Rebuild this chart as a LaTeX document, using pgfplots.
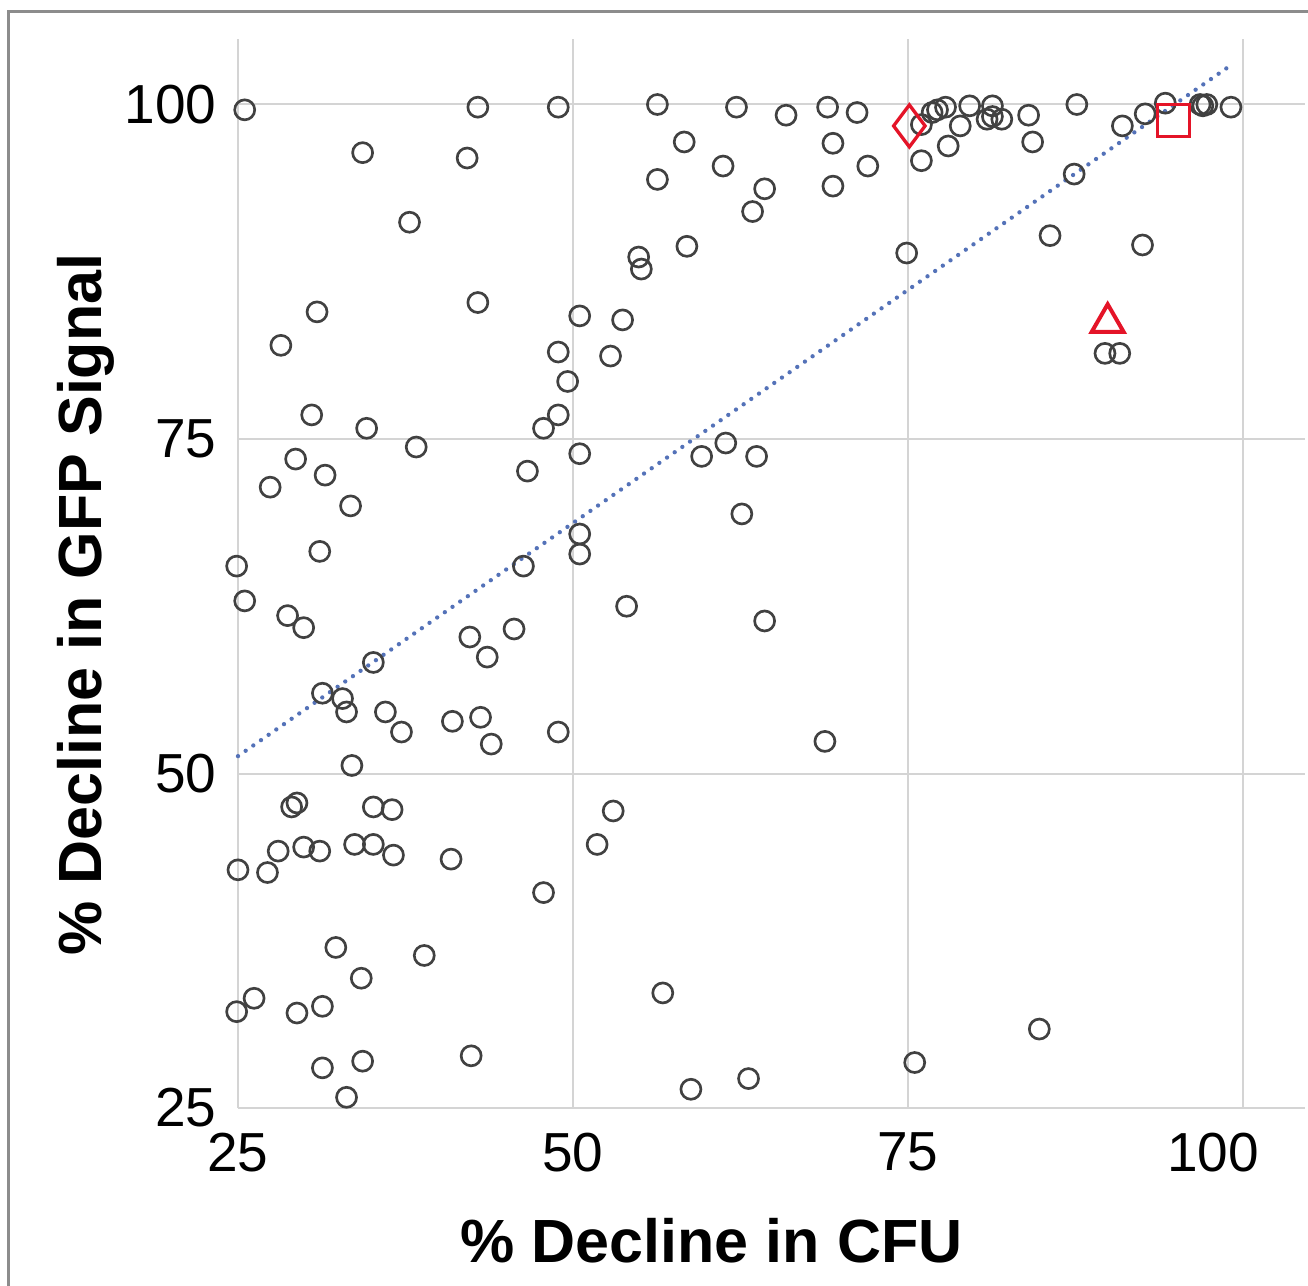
\documentclass[border=0pt]{standalone}
\usepackage{pgfplots}
\pgfplotsset{compat=1.18}
\usepackage{fontspec}
\setmainfont{Liberation Sans}
\definecolor{ptgray}{RGB}{65,65,65}
\definecolor{ptred}{RGB}{228,20,40}
\definecolor{trendblue}{RGB}{84,114,184}
\definecolor{gridgray}{RGB}{212,212,212}
\begin{document}
\begin{tikzpicture}
\useasboundingbox (0,0) rectangle (392.4pt,385.5pt);
\draw[draw={rgb,255:red,140;green,140;blue,140}, line width=0.9pt] (2.4pt,-5pt) -- (2.4pt,381.9pt) -- (400pt,381.9pt);
\begin{axis}[
  at={(71.4pt,53.1pt)}, anchor=south west,
  x=4.02pt, y=4.014pt,
  xmin=25, xmax=104.6, ymin=25, ymax=104.9,
  xtick={25,50,75}, ytick={25,50,75,100},
  extra x ticks={100},
  extra x tick style={grid=major, xticklabel style={xshift=-9pt}},
  grid=major,
  major grid style={draw=gridgray, line width=0.6pt},
  axis lines*=left,
  axis line style={draw=gridgray, line width=0.6pt},
  tick style={draw=none},
  clip=false,
  /pgf/number format/assume math mode=true,
  ticklabel style={font=\fontsize{16.5}{18}\selectfont},
  xticklabel style={yshift=-4pt},
  yticklabel style={xshift=-3pt},
  label style={font=\bfseries\fontsize{18.3}{20}\selectfont},
  xlabel={\% Decline in CFU},
  ylabel={\% Decline in GFP Signal},
  xlabel style={at={(axis description cs:0.444,-0.124)}, anchor=center},
  ylabel style={at={(axis description cs:-0.143,0.471)}, anchor=center},
]
\addplot[trendblue, line width=1.3pt, dash pattern=on 0pt off 2.8pt, line cap=round] coordinates {(25,51.3) (98.9,102.8)};
\addplot[only marks, mark=o, mark size=3pt, mark options={draw=ptgray, line width=0.8pt}] coordinates {
(25.5,99.6) (42.9,99.8) (48.9,99.8) (56.3,100.0) (62.2,99.8) (65.9,99.2) (69.0,99.8) (71.2,99.4)
(76.0,98.5) (76.8,99.4) (77.2,99.6) (77.8,99.8) (78.0,96.9) (79.6,99.9) (81.3,99.9) (80.9,98.9)
(82.0,98.9) (81.3,99.1) (78.9,98.4) (84.0,99.2) (84.3,97.2) (87.6,100.0) (91.0,98.4) (92.7,99.3)
(94.2,100.1) (96.8,100.0) (97.3,100.0) (97.0,99.9) (99.1,99.8)
(58.3,97.2) (61.2,95.4) (56.3,94.4) (64.3,93.7) (63.4,92.0) (69.4,97.1) (72.0,95.4) (69.4,93.9)
(76.0,95.8) (74.9,88.9) (58.5,89.4) (54.9,88.6) (55.1,87.7) (87.4,94.8) (85.6,90.2) (92.5,89.5)
(89.7,81.4) (90.8,81.4) (34.3,96.4) (42.1,96.0) (37.8,91.2) (30.9,84.5) (42.9,85.2) (50.5,84.2)
(53.7,83.9) (28.2,82.0) (48.9,81.5) (52.8,81.2) (49.6,79.3) (30.5,76.8) (34.6,75.8) (48.9,76.8)
(47.8,75.8) (38.3,74.4) (29.3,73.5) (50.5,73.9) (27.4,71.4) (31.5,72.3) (33.4,70.0) (46.6,72.6)
(31.1,66.6) (24.9,65.5) (25.5,62.9) (28.7,61.8) (29.9,60.9) (50.5,67.9) (50.5,66.4) (46.3,65.5)
(35.1,58.3) (42.3,60.2) (43.6,58.7) (45.6,60.8) (31.3,56.0) (32.8,55.6) (33.1,54.6) (36.0,54.6)
(37.2,53.1) (41.0,53.9) (43.1,54.2) (43.9,52.2) (48.9,53.1) (33.5,50.6) (59.6,73.7) (61.4,74.7)
(63.7,73.7) (62.6,69.4) (54.0,62.5) (64.3,61.4) (68.8,52.4) (29.0,47.5) (29.4,47.8) (35.1,47.5)
(36.5,47.3) (28.0,44.2) (29.9,44.5) (31.1,44.2) (33.7,44.7) (35.1,44.7) (36.6,43.9) (25.0,42.8)
(27.2,42.6) (40.9,43.6) (47.8,41.1) (51.8,44.7) (53.0,47.2) (32.3,37.0) (38.9,36.4) (34.2,34.7)
(24.9,32.2) (26.2,33.2) (29.4,32.1) (31.3,32.6) (31.3,28.0) (34.3,28.5) (42.4,28.9) (33.1,25.8)
(56.7,33.6) (58.8,26.4) (63.1,27.2) (75.5,28.4) (84.8,30.9)
};
\addplot[only marks, mark=diamond, mark size=6.3pt, mark options={draw=ptred, line width=1pt}] coordinates {(75.1,98.4)};
\addplot[only marks, mark=square, mark size=4.8pt, mark options={draw=ptred, line width=0.9pt}] coordinates {(94.8,98.8)};
\addplot[only marks, mark=triangle, mark size=5.5pt, mark options={draw=ptred, line width=1.2pt}] coordinates {(89.9,83.7)};
\end{axis}
\end{tikzpicture}
\end{document}
